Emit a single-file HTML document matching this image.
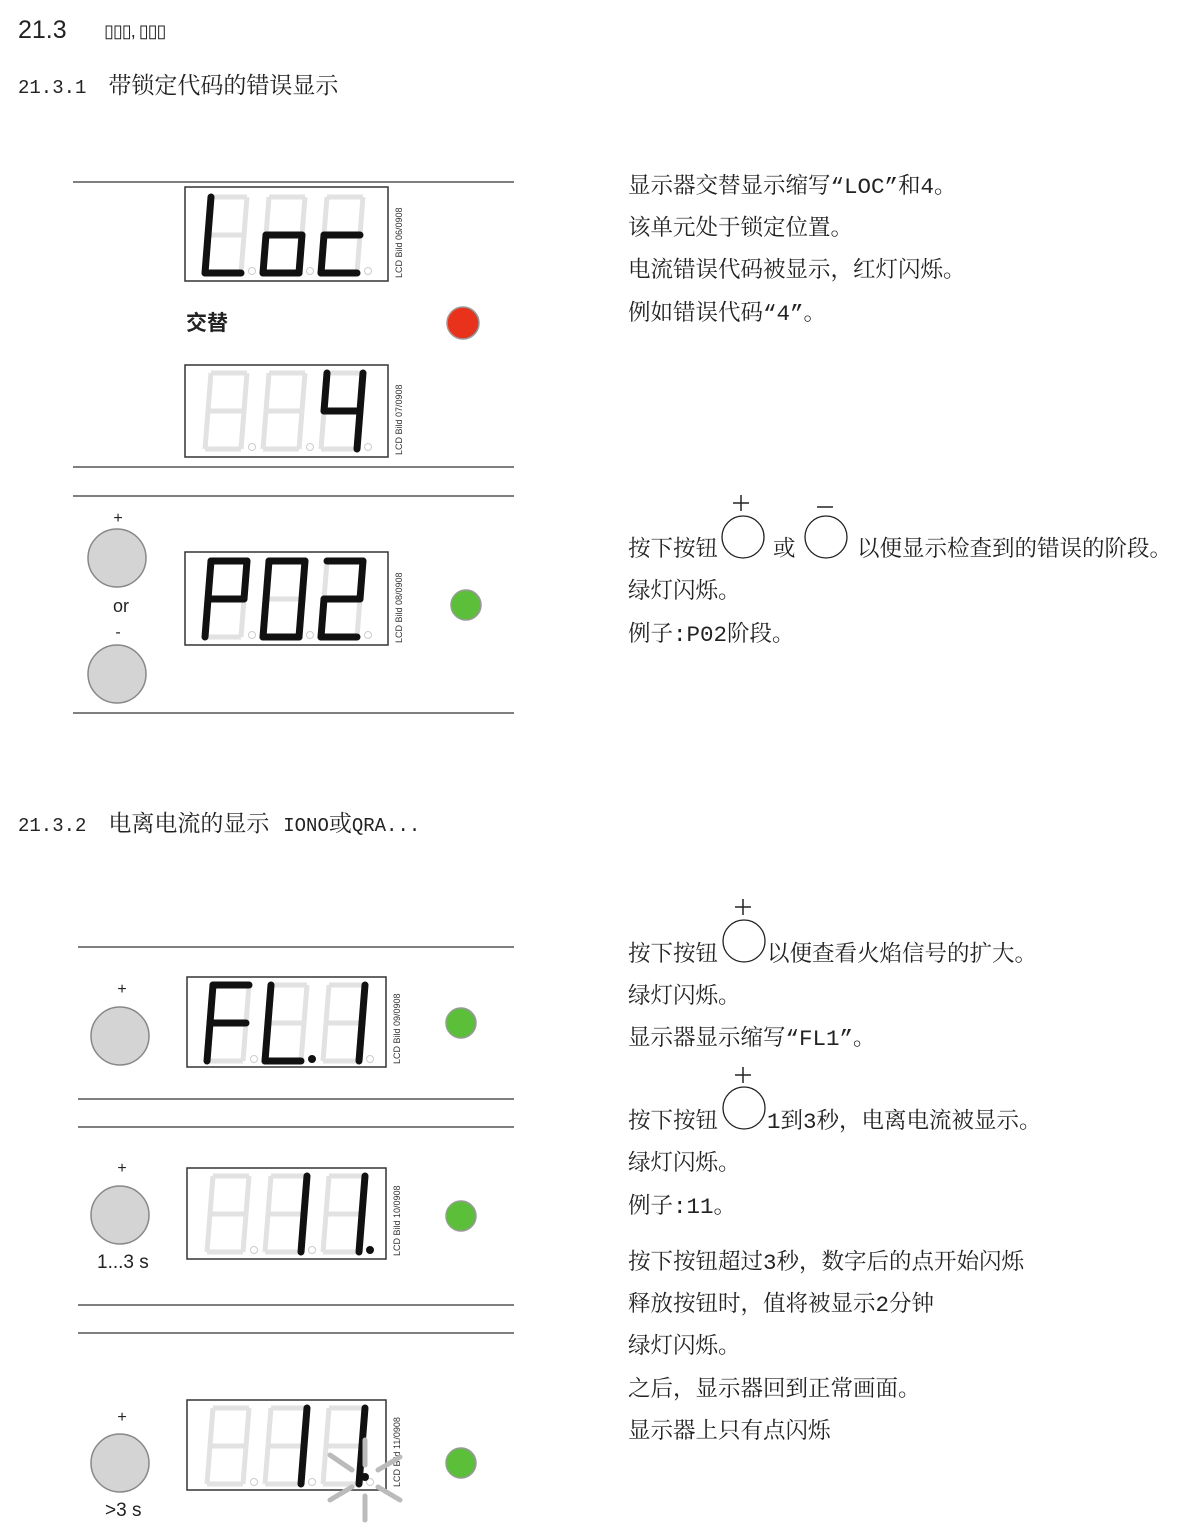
<!DOCTYPE html><html><head><meta charset="utf-8"><style>
body{margin:0;width:1199px;height:1528px;background:#fff;position:relative;overflow:hidden;font-family:"Liberation Mono","Noto Serif CJK SC",serif;color:#222}
.t{position:absolute;white-space:nowrap;font-size:22.5px;line-height:1}
.s{font-family:"Liberation Sans","Noto Sans CJK SC",sans-serif}
.m{font-family:"Liberation Mono",monospace;font-size:19px}
svg{position:absolute;left:0;top:0}
</style></head><body>
<div class="t s" style="left:18px;top:18px;font-size:25px">21.3</div>
<div class="t s" style="left:104px;top:22px;font-size:18px;letter-spacing:-1px">▯▯▯, ▯▯▯</div>
<div class="t" style="left:18px;top:76px;font-size:23px"><span class="m" style="font-size:19px">21.3.1</span><span style="margin-left:22px">带锁定代码的错误显示</span></div>
<div class="t" style="left:18px;top:814px;font-size:23px"><span class="m" style="font-size:19px">21.3.2</span><span style="margin-left:22px">电离电流的显示 </span><span class="m" style="font-size:19px">IONO</span>或<span class="m" style="font-size:19px">QRA...</span></div>
<div class="t s" style="left:186px;top:313px;font-size:21px;font-weight:bold">交替</div>
<div class="t s" style="left:113px;top:597px;font-size:18px">or</div>
<div class="t s" style="left:97px;top:1253px;font-size:19px">1...3 s</div>
<div class="t s" style="left:105px;top:1501px;font-size:19px">&gt;3 s</div>

<div class="t" style="left:628px;top:176px">显示器交替显示缩写“LOC”和4。</div>
<div class="t" style="left:628px;top:218px">该单元处于锁定位置。</div>
<div class="t" style="left:628px;top:260px">电流错误代码被显示，红灯闪烁。</div>
<div class="t" style="left:628px;top:303px">例如错误代码“4”。</div>
<div class="t" style="left:628px;top:539px">按下按钮</div>
<div class="t" style="left:773px;top:539px">或</div>
<div class="t" style="left:857px;top:539px">以便显示检查到的错误的阶段。</div>
<div class="t" style="left:628px;top:581px">绿灯闪烁。</div>
<div class="t" style="left:628px;top:624px">例子:P02阶段。</div>
<div class="t" style="left:628px;top:944px">按下按钮</div>
<div class="t" style="left:767px;top:944px">以便查看火焰信号的扩大。</div>
<div class="t" style="left:628px;top:986px">绿灯闪烁。</div>
<div class="t" style="left:628px;top:1028px">显示器显示缩写“FL1”。</div>
<div class="t" style="left:628px;top:1111px">按下按钮</div>
<div class="t" style="left:767px;top:1111px">1到3秒，电离电流被显示。</div>
<div class="t" style="left:628px;top:1153px">绿灯闪烁。</div>
<div class="t" style="left:628px;top:1196px">例子:11。</div>
<div class="t" style="left:628px;top:1252px">按下按钮超过3秒，数字后的点开始闪烁</div>
<div class="t" style="left:628px;top:1294px">释放按钮时，值将被显示2分钟</div>
<div class="t" style="left:628px;top:1336px">绿灯闪烁。</div>
<div class="t" style="left:628px;top:1379px">之后，显示器回到正常画面。</div>
<div class="t" style="left:628px;top:1421px">显示器上只有点闪烁</div>

<svg id="g" width="1199" height="1528" xmlns="http://www.w3.org/2000/svg">
<g stroke="#555" stroke-width="1.5">
<line x1="73" y1="182" x2="514" y2="182"/><line x1="73" y1="467" x2="514" y2="467"/>
<line x1="73" y1="496" x2="514" y2="496"/><line x1="73" y1="713" x2="514" y2="713"/>
<line x1="78" y1="947" x2="514" y2="947"/><line x1="78" y1="1099" x2="514" y2="1099"/>
<line x1="78" y1="1127" x2="514" y2="1127"/><line x1="78" y1="1305" x2="514" y2="1305"/>
<line x1="78" y1="1333" x2="514" y2="1333"/>
</g>
<g fill="none" stroke="#333" stroke-width="1.5">
<rect x="185" y="187" width="203" height="94"/><rect x="185" y="365" width="203" height="92"/>
<rect x="185" y="552" width="203" height="93"/><rect x="187" y="977" width="199" height="90"/>
<rect x="187" y="1168" width="199" height="91"/><rect x="187" y="1400" width="199" height="90"/>
</g>
<g fill="#d4d4d4" stroke="#888" stroke-width="1.5">
<circle cx="117" cy="558" r="29"/><circle cx="117" cy="674" r="29"/>
<circle cx="120" cy="1036" r="29"/><circle cx="120" cy="1215" r="29"/><circle cx="120" cy="1463" r="29"/>
</g>
<g fill="none" stroke="#222" stroke-width="1.3">
<circle cx="743" cy="537" r="21"/><circle cx="826" cy="537" r="21"/>
<circle cx="744" cy="941" r="21"/><circle cx="744" cy="1108" r="21"/>
</g>
<g stroke="#222" stroke-width="1.5">
<line x1="733" y1="503" x2="749" y2="503"/><line x1="741" y1="495" x2="741" y2="511"/>
<line x1="817" y1="507" x2="833" y2="507"/>
<line x1="735" y1="907" x2="751" y2="907"/><line x1="743" y1="899" x2="743" y2="915"/>
<line x1="735" y1="1075" x2="751" y2="1075"/><line x1="743" y1="1067" x2="743" y2="1083"/>
</g>
<g font-family="Liberation Sans,sans-serif" font-size="16" fill="#222" text-anchor="middle">
<text x="118" y="523">+</text><text x="118" y="637">-</text>
<text x="122" y="994">+</text><text x="122" y="1173">+</text><text x="122" y="1422">+</text>
</g>
<g font-family="Liberation Sans,sans-serif" font-size="9" fill="#333">
<text transform="translate(402,278) rotate(-90)">LCD Bild 06/0908</text>
<text transform="translate(402,455) rotate(-90)">LCD Bild 07/0908</text>
<text transform="translate(402,643) rotate(-90)">LCD Bild 08/0908</text>
<text transform="translate(400,1064) rotate(-90)">LCD Bild 09/0908</text>
<text transform="translate(400,1256) rotate(-90)">LCD Bild 10/0908</text>
<text transform="translate(400,1487) rotate(-90)">LCD Bild 11/0908</text>
</g>
<circle cx="463" cy="323" r="16" fill="#e8321c" stroke="#999" stroke-width="1.5"/>
<g fill="#5cbf3a" stroke="#999" stroke-width="1.5">
<circle cx="466" cy="605" r="15"/><circle cx="461" cy="1023" r="15"/>
<circle cx="461" cy="1216" r="15"/><circle cx="461" cy="1463" r="15"/>
</g>
<g id="d"></g>
<g stroke="#bbb" stroke-width="5" stroke-linecap="round">
<line x1="365" y1="1440" x2="365" y2="1465"/><line x1="365" y1="1496" x2="365" y2="1520"/>
<line x1="330" y1="1455" x2="352" y2="1470"/><line x1="378" y1="1470" x2="400" y2="1457"/>
<line x1="330" y1="1500" x2="352" y2="1487"/><line x1="378" y1="1487" x2="400" y2="1500"/>
</g>
<circle cx="365" cy="1477" r="4" fill="#111"/>
</svg>
<script>
var S={a:[[6,0],[42,0]],b:[[42,0],[39,38]],c:[[39,38],[36,76]],d:[[0,76],[36,76]],e:[[3,38],[0,76]],f:[[6,0],[3,38]],g:[[3,38],[39,38]]};
var D={L:"def",o:"cdeg",c:"deg",4:"bcfg",P:"abefg",0:"abcdef",2:"abdeg",F:"aefg",1:"bc"};
var o1="",o2="";
function ln(x,y,p,a){return '<line x1="'+(x+p[0][0])+'" y1="'+(y+p[0][1])+'" x2="'+(x+p[1][0])+'" y2="'+(y+p[1][1])+'" stroke="'+(a?'#111':'#e2e2e2')+'" stroke-width="'+(a?7:5)+'" stroke-linecap="'+(a?'round':'butt')+'"/>';}
function dig(x,y,ch,dot){var on=D[ch]||"";for(var k in S){var a=on.indexOf(k)>=0;if(a)o2+=ln(x,y,S[k],1);else o1+=ln(x,y,S[k],0);}
o1+='<circle cx="'+(x+47)+'" cy="'+(y+74)+'" r="3.5" fill="'+(dot?'#111':'none')+'" stroke="'+(dot?'#111':'#ccc')+'"/>';}
function row(x,y,s,dots){for(var i=0;i<3;i++)dig(x+i*58,y,s[i],dots&&dots[i]);}
row(205,197,"Loc");row(205,373,"  4");row(205,561,"P02");
row(207,985,"FL1",[0,1,0]);row(207,1176," 11",[0,0,1]);row(207,1408," 11");
document.getElementById("d").innerHTML=o1+o2;
</script>
</body></html>
